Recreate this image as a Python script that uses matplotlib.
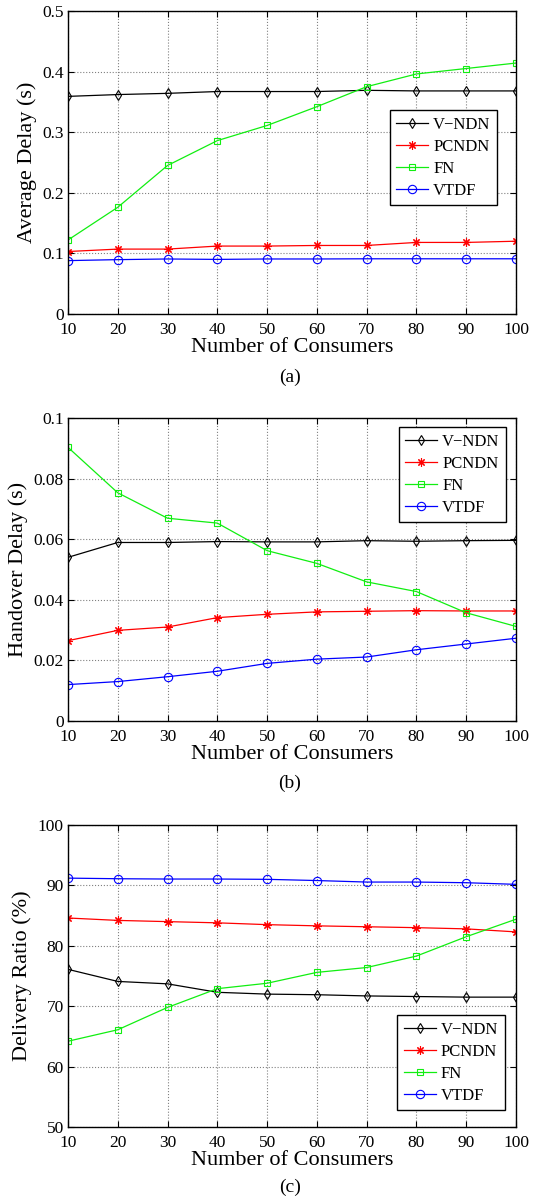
import numpy as np
import matplotlib
matplotlib.use("Agg")
import matplotlib.pyplot as plt

plt.rcParams['font.family'] = ['Liberation Serif', 'DejaVu Serif']
plt.rcParams['mathtext.fontset'] = 'stix'

consumers = [10, 20, 30, 40, 50, 60, 70, 80, 90, 100]
names = ["V\u2212NDN", "PCNDN", "FN", "VTDF"]

# (a) average delay (s)
avg_vndn = [0.359, 0.362, 0.364, 0.367, 0.367, 0.367, 0.369, 0.368, 0.368, 0.368]
avg_pcndn = [0.103, 0.107, 0.107, 0.112, 0.112, 0.113, 0.113, 0.118, 0.118, 0.120]
avg_fn = [0.122, 0.176, 0.245, 0.286, 0.311, 0.342, 0.375, 0.396, 0.405, 0.414]
avg_vtdf = [0.088, 0.0896, 0.0907, 0.090, 0.0907, 0.0907, 0.091, 0.091, 0.091, 0.091]

# (b) handover delay (s)
ho_vndn = [0.054, 0.0589, 0.0589, 0.0592, 0.0591, 0.0591, 0.0595, 0.0593, 0.0595, 0.0596]
ho_pcndn = [0.0265, 0.0299, 0.031, 0.0341, 0.0352, 0.036, 0.0362, 0.0364, 0.0363, 0.0363]
ho_fn = [0.0903, 0.0753, 0.0669, 0.0653, 0.0562, 0.052, 0.0459, 0.0427, 0.0357, 0.0312]
ho_vtdf = [0.012, 0.013, 0.0146, 0.0164, 0.019, 0.0204, 0.0211, 0.0235, 0.0254, 0.0273]

# (c) delivery ratio (%)
dr_vndn = [76.1, 74.1, 73.7, 72.3, 72.0, 71.9, 71.7, 71.6, 71.5, 71.5]
dr_pcndn = [84.6, 84.2, 84.0, 83.8, 83.5, 83.3, 83.15, 83.0, 82.8, 82.3]
dr_fn = [64.2, 66.1, 69.8, 72.9, 73.8, 75.6, 76.4, 78.3, 81.5, 84.4]
dr_vtdf = [91.2, 91.1, 91.05, 91.05, 91.0, 90.8, 90.55, 90.55, 90.44, 90.17]

styles = [dict(color='black', marker='d', ms=5.5, mfc='none'),
          dict(color='red', marker=(8, 2, 0), ms=6),
          dict(color='#11ee11', marker='s', ms=5, mfc='none'),
          dict(color='blue', marker='o', ms=6, mfc='none')]

panels = [
    ([avg_vndn, avg_pcndn, avg_fn, avg_vtdf], "Average Delay (s)",
     (0, 0.5), [0, 0.1, 0.2, 0.3, 0.4, 0.5], ["0", "0.1", "0.2", "0.3", "0.4", "0.5"],
     (0.958, 0.673), "(a)"),
    ([ho_vndn, ho_pcndn, ho_fn, ho_vtdf], "Handover Delay (s)",
     (0, 0.1), [0, 0.02, 0.04, 0.06, 0.08, 0.1], ["0", "0.02", "0.04", "0.06", "0.08", "0.1"],
     (0.978, 0.970), "(b)"),
    ([dr_vndn, dr_pcndn, dr_fn, dr_vtdf], "Delivery Ratio (%)",
     (50, 100), [50, 60, 70, 80, 90, 100], ["50", "60", "70", "80", "90", "100"],
     (0.975, 0.371), "(c)"),
]

boxes = [[0.1266, 0.7386, 0.8343, 0.2523],
         [0.1266, 0.3997, 0.8343, 0.2523],
         [0.1266, 0.0616, 0.8343, 0.2515]]
tag_y = [0.686, 0.348, 0.0117]

fig = plt.figure(figsize=(5.37, 12.01), dpi=100)

for i, (series, ylab, ylim, yt, ytl, leg_pos, tag) in enumerate(panels):
    ax = fig.add_axes(boxes[i])
    for vals, name, st in zip(series, names, styles):
        ax.plot(consumers, vals, lw=0.9, mew=0.8, label=name, **st)
    ax.set_xlim(10, 100)
    ax.set_ylim(*ylim)
    ax.set_xticks(consumers)
    ax.set_yticks(yt)
    ax.set_yticklabels(ytl)
    ax.tick_params(direction='in', top=True, right=True, labelsize=12.5, length=4)
    ax.tick_params(axis='x', pad=5.5)
    ax.tick_params(axis='y', pad=3)
    ax.grid(True, linestyle=':', color='gray', lw=0.8)
    for sp in ax.spines.values():
        sp.set_linewidth(1.0)
    ax.set_xlabel("Number of Consumers", fontsize=16, labelpad=0)
    ax.set_ylabel(ylab, fontsize=16, labelpad=4)
    leg = ax.legend(loc='upper right', bbox_to_anchor=leg_pos, fontsize=12,
                    fancybox=False, edgecolor='black', framealpha=1,
                    handlelength=1.9, handletextpad=0.3, borderpad=0.4,
                    labelspacing=0.36, borderaxespad=0)
    leg.get_frame().set_linewidth(1.0)
    fig.text(0.54, tag_y[i], tag, ha='center', va='center', fontsize=14)

fig.savefig("out.png", dpi=100)
